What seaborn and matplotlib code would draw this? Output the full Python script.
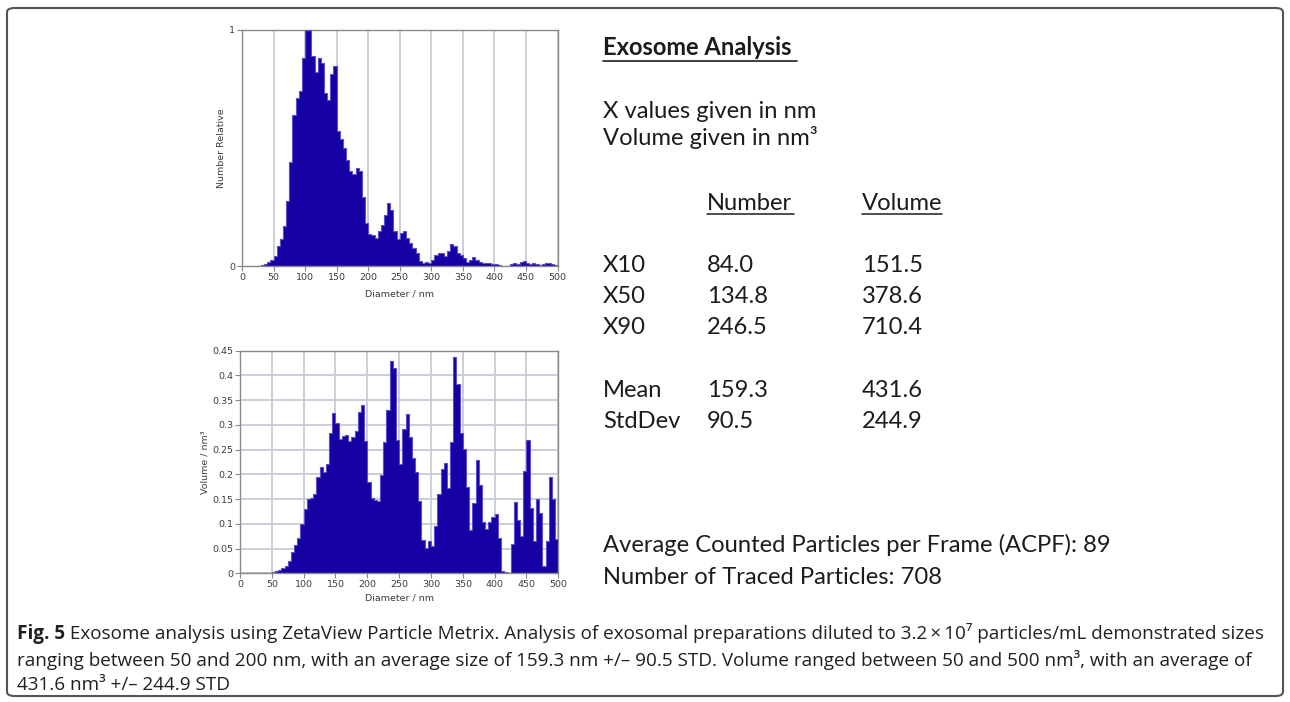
import numpy as np
import pandas as pd
import matplotlib
matplotlib.use("Agg")
import matplotlib.pyplot as plt
import seaborn as sns
from matplotlib.patches import FancyBboxPatch
from matplotlib.lines import Line2D
from matplotlib.ticker import FuncFormatter

# ---------------- data ----------------
bin_edges = list(range(0, 505, 5))          # diameter bins (nm)
bin_left = bin_edges[:-1]

number_relative = [
    0, 0, 0, 0, 0, 0, 0.004, 0.01, 0.017, 0.024,            # 0-50
    0.042, 0.085, 0.115, 0.17, 0.275, 0.44, 0.64, 0.71, 0.74, 0.88,   # 50-100
    1.0, 1.0, 0.89, 0.82, 0.88, 0.86, 0.73, 0.70, 0.81, 0.845,      # 100-150
    0.57, 0.535, 0.50, 0.45, 0.40, 0.39, 0.415, 0.40, 0.29, 0.18,   # 150-200
    0.137, 0.13, 0.12, 0.146, 0.175, 0.217, 0.266, 0.235, 0.146, 0.113,  # 200-250
    0.14, 0.146, 0.118, 0.097, 0.077, 0.055, 0.02, 0.014, 0.017, 0.014,  # 250-300
    0.024, 0.045, 0.055, 0.055, 0.042, 0.062, 0.094, 0.083, 0.055, 0.048,  # 300-350
    0.034, 0.017, 0.027, 0.037, 0.027, 0.017, 0.014, 0.014, 0.014, 0.01,   # 350-400
    0.01, 0.006, 0, 0, 0, 0.01, 0.014, 0.01, 0.017, 0.021,                 # 400-450
    0.014, 0.01, 0.013, 0.01, 0.006, 0.01, 0.014, 0.014, 0.01, 0.006,      # 450-500
]

volume_nm3 = [
    0, 0, 0, 0, 0, 0, 0, 0, 0, 0,                                           # 0-50
    0.002, 0.004, 0.007, 0.01, 0.015, 0.025, 0.043, 0.057, 0.072, 0.1,     # 50-100
    0.13, 0.15, 0.152, 0.16, 0.195, 0.215, 0.205, 0.22, 0.283, 0.325,      # 100-150
    0.303, 0.272, 0.278, 0.28, 0.268, 0.275, 0.287, 0.327, 0.34, 0.268,    # 150-200
    0.185, 0.152, 0.148, 0.147, 0.198, 0.265, 0.33, 0.43, 0.415, 0.27,     # 200-250
    0.22, 0.292, 0.322, 0.275, 0.233, 0.205, 0.147, 0.068, 0.052, 0.065,   # 250-300
    0.055, 0.095, 0.16, 0.21, 0.222, 0.172, 0.265, 0.437, 0.382, 0.283,    # 300-350
    0.252, 0.175, 0.087, 0.143, 0.23, 0.178, 0.103, 0.09, 0.103, 0.113,    # 350-400
    0.12, 0.072, 0.005, 0.002, 0.0, 0.06, 0.145, 0.107, 0.075, 0.207,      # 400-450
    0.27, 0.132, 0.065, 0.15, 0.122, 0.015, 0.065, 0.195, 0.15, 0.07,      # 450-500
]

x_ticks = [0, 50, 100, 150, 200, 250, 300, 350, 400, 450, 500]
vol_ticks = [0, 0.05, 0.1, 0.15, 0.2, 0.25, 0.3, 0.35, 0.4, 0.45]

stat_rows = ["X10", "X50", "X90", "Mean", "StdDev"]
stat_number = ["84.0", "134.8", "246.5", "159.3", "90.5"]
stat_volume = ["151.5", "378.6", "710.4", "431.6", "244.9"]

# ---------------- style ----------------
sns.set_style("white")
plt.rcParams["font.family"] = ["DejaVu Sans"]

W, H = 1290, 702
fig = plt.figure(figsize=(W / 100, H / 100), dpi=100)


def fx(x):
    return x / W


def fy(y):
    return 1 - y / H


BAR = "#1500a3"
EDGE = "#5b50d2"
GRID = "#c9c9d8"
SPINE = "#8a8a8a"
TICKC = "#3c3c3c"
TFS = 6.8

ax1 = fig.add_axes([fx(242), fy(266), (557.5 - 242) / W, (266 - 29.5) / H])
ax2 = fig.add_axes([fx(240), fy(573.3), (558.3 - 240) / W, (573.3 - 350.7) / H])


def draw_hist(ax, values):
    df = pd.DataFrame({"diameter": np.array(bin_left) + 2.5, "w": values})
    sns.histplot(data=df, x="diameter", weights="w", bins=bin_edges,
                 element="bars", fill=True, color=BAR, alpha=1, linewidth=0,
                 ax=ax, zorder=2)
    sns.histplot(data=df, x="diameter", weights="w", bins=bin_edges,
                 element="step", fill=False, color=EDGE, linewidth=0.8,
                 ax=ax, zorder=3)


draw_hist(ax1, number_relative)
draw_hist(ax2, volume_nm3)

for ax in (ax1, ax2):
    ax.set_xlim(0, 500)
    ax.set_xticks(x_ticks)
    ax.set_axisbelow(True)
    for s in ax.spines.values():
        s.set_color(SPINE)
        s.set_linewidth(1.0)
    ax.tick_params(axis="both", direction="out", length=3.5, width=0.8,
                   color=SPINE, labelsize=TFS, labelcolor=TICKC, pad=1.5,
                   bottom=True, left=True)
    ax.set_xlabel("Diameter / nm", fontsize=TFS, color=TICKC)

ax1.set_ylim(0, 1)
ax1.set_yticks([0, 1])
ax1.set_yticklabels(["0", "1"])
ax1.grid(axis="x", color=GRID, linewidth=1.3)
ax1.grid(axis="y", visible=False)
ax1.set_ylabel("Number Relative", fontsize=TFS, color=TICKC)
ax1.yaxis.label.set_va("center")
ax1.yaxis.set_label_coords(-0.064, 0.5)
ax1.xaxis.set_label_coords(0.5, -0.098)

ax2.set_ylim(0, 0.45)
ax2.set_yticks(vol_ticks)
ax2.yaxis.set_major_formatter(FuncFormatter(lambda v, p: f"{v:g}"))
ax2.grid(axis="both", color=GRID, linewidth=1.3)
ax2.set_ylabel("Volume / nm³", fontsize=TFS, color=TICKC)
ax2.yaxis.label.set_va("center")
ax2.yaxis.set_label_coords(-0.11, 0.5)
ax2.xaxis.set_label_coords(0.5, -0.092)

# ---------------- right text block ----------------
r = fig.canvas.get_renderer()
BODY = ["Lato", "DejaVu Sans"]
TXT = "#1c1c1c"


def fit(t, target):
    w = t.get_window_extent(r).width
    t.set_fontsize(t.get_fontsize() * target / w)
    return t.get_fontsize()


title = fig.text(fx(603), fy(55), "Exosome Analysis", family=BODY,
                 weight="bold", fontsize=14, color=TXT, va="baseline")
fit(title, 190)
fig.add_artist(Line2D([fx(603), fx(797)], [fy(60.5), fy(60.5)],
                      color=TXT, lw=1.2, transform=fig.transFigure))

t = fig.text(fx(603), fy(117.5), "X values given in nm", family=BODY,
             fontsize=15, color=TXT, va="baseline")
bfs = fit(t, 214)


def body(x, y, s):
    return fig.text(fx(x), fy(y), s, family=BODY, fontsize=bfs, color=TXT,
                    va="baseline")


body(603, 145, "Volume given in nm³")
body(707, 210, "Number")
body(862, 210, "Volume")
fig.add_artist(Line2D([fx(707), fx(794)], [fy(213.5), fy(213.5)],
                      color=TXT, lw=1.1, transform=fig.transFigure))
fig.add_artist(Line2D([fx(862), fx(942)], [fy(213.5), fy(213.5)],
                      color=TXT, lw=1.1, transform=fig.transFigure))

row_y = [271.7, 303.2, 334.0, 397.0, 428.5]
for lab, n, v, y in zip(stat_rows, stat_number, stat_volume, row_y):
    body(603, y, lab)
    body(707, y, n)
    body(862, y, v)

body(603, 552.5, "Average Counted Particles per Frame (ACPF): 89")
body(603, 583.5, "Number of Traced Particles: 708")

# ---------------- caption ----------------
CAP = ["Open Sans", "DejaVu Sans"]
CAPC = "#231f20"
line2 = fig.text(fx(17), fy(666), "ranging between 50 and 200 nm, with an average size of "
                 "159.3 nm +/\u2013 90.5 STD. Volume ranged between 50 and 500 nm³, "
                 "with an average of", family=CAP, fontsize=12, color=CAPC,
                 va="baseline")
cfs = fit(line2, 1228)
bold = fig.text(fx(17), fy(639), "Fig. 5", family=CAP, weight="bold",
                fontsize=cfs, color=CAPC, va="baseline")
wb = bold.get_window_extent(r).width
fig.text(fx(17 + wb), fy(639), " Exosome analysis using ZetaView Particle Metrix. "
         "Analysis of exosomal preparations diluted to 3.2\u2009\u00d7\u200910\u2077 "
         "particles/mL demonstrated sizes", family=CAP, fontsize=cfs,
         color=CAPC, va="baseline")
fig.text(fx(17), fy(690), "431.6 nm³ +/\u2013 244.9 STD", family=CAP,
         fontsize=cfs, color=CAPC, va="baseline")

# ---------------- frame ----------------
frame = FancyBboxPatch((fx(7), fy(696)), (1283 - 7) / W, (696 - 8) / H,
                       boxstyle="round,pad=0,rounding_size=0.006",
                       transform=fig.transFigure, fill=False,
                       edgecolor="#555555", linewidth=1.5)
fig.add_artist(frame)

fig.savefig("out.png", dpi=100)
